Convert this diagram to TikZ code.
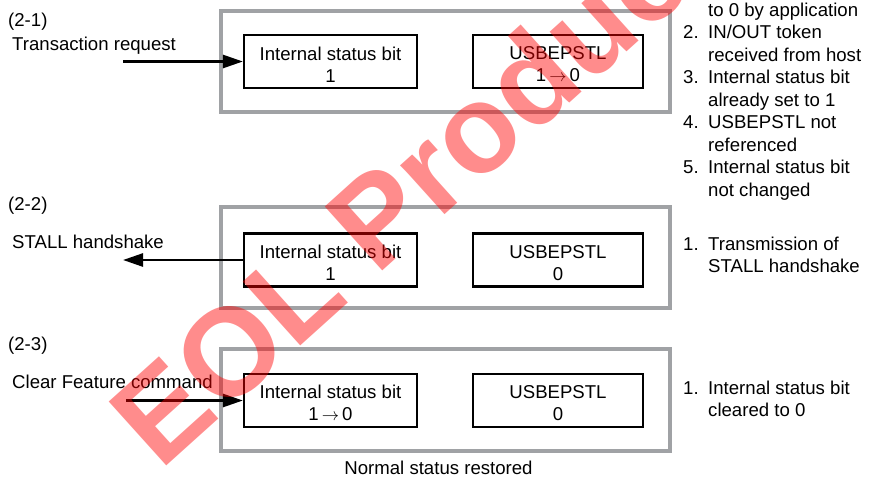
\documentclass[tikz,border=0pt]{standalone}
\usepackage{fontspec}
\setmainfont{Liberation Sans}
\usetikzlibrary{arrows.meta}
\definecolor{boxgray}{RGB}{160,162,165}
\newcommand{\tl}{\rule{0pt}{19pt}}
\begin{document}
\begin{tikzpicture}[x=1pt,y=-1pt,
  txt/.style={font=\fontsize{18.6}{22.5}\selectfont, inner sep=0pt},
  lbl/.style={txt, anchor=base west},
  outerbox/.style={draw=boxgray, line width=4.5pt, minimum width=449pt, minimum height=101pt, inner sep=0pt},
  innerbox/.style={draw=black, line width=2.2pt, minimum height=53pt, inner sep=0pt, align=center, font=\fontsize{18.6}{22}\selectfont},
  arr/.style={line width=2.6pt, -{Triangle[length=20pt,width=13pt]}},
  wm/.style={rotate=42, anchor=base west, inner sep=0pt, font=\fontsize{125}{125}\selectfont\bfseries, text=red, text opacity=0.45}
]
\useasboundingbox (0,0) rectangle (872,477);
\clip (0,0) rectangle (872,477);

% outer status frames
\node[outerbox] (o1) at (445.5,61.5) {};
\node[outerbox] (o2) at (445.5,257.5) {};
\node[outerbox, minimum height=102pt] (o3) at (445.5,400) {};

% inner boxes
\node[innerbox, minimum width=173pt] (s1) at (330.5,61.5) {\tl Internal status bit\\1};
\node[innerbox, minimum width=170pt] (u1) at (558,61.5) {\tl USBEPSTL\\1\,$\rightarrow$\,0};
\node[innerbox, minimum width=173pt] (s2) at (330.5,260) {\tl Internal status bit\\1};
\node[innerbox, minimum width=170pt] (u2) at (558,260) {\tl USBEPSTL\\0};
\node[innerbox, minimum width=173pt] (s3) at (330.5,400.5) {\tl Internal status bit\\1\,$\rightarrow$\,0};
\node[innerbox, minimum width=170pt] (u3) at (558,400.5) {\tl USBEPSTL\\0};

% arrows
\coordinate (a1) at (123,61.5);
\coordinate (a2) at (123,260);
\coordinate (a3) at (126,400.5);
\draw[arr] (a1) -- (s1.west);
\draw[arr] (s2.west) -- (a2);
\draw[arr] (a3) -- (s3.west);

% left labels
\node[lbl] (l21) at (8,26) {(2-1)};
\node[lbl] (ltr) at (12,50) {Transaction request};
\node[lbl] (l22) at (8,210) {(2-2)};
\node[lbl] (lst) at (12,248) {STALL handshake};
\node[lbl] (l23) at (8,350) {(2-3)};
\node[lbl] (lcf) at (12,388) {Clear Feature command};

% bottom caption
\node[txt, anchor=base] (cap) at (438.5,474) {Normal status restored};

% right list, frame 1
\node[lbl] (r10) at (708,16) {to 0 by application};
\node[lbl] (n2) at (683,38.5) {2.};
\node[lbl] (r11) at (708,38.5) {IN/OUT token};
\node[lbl] (r12) at (708,61) {received from host};
\node[lbl] (n3) at (683,83.5) {3.};
\node[lbl] (r13) at (708,83.5) {Internal status bit};
\node[lbl] (r14) at (708,106) {already set to 1};
\node[lbl] (n4) at (683,128.5) {4.};
\node[lbl] (r15) at (708,128.5) {USBEPSTL not};
\node[lbl] (r16) at (708,151) {referenced};
\node[lbl] (n5) at (683,173.5) {5.};
\node[lbl] (r17) at (708,173.5) {Internal status bit};
\node[lbl] (r18) at (708,196) {not changed};

% right list, frame 2
\node[lbl] (m1) at (683,250) {1.};
\node[lbl] (r21) at (708,250) {Transmission of};
\node[lbl] (r22) at (708,272.5) {STALL handshake};

% right list, frame 3
\node[lbl] (k1) at (683,394) {1.};
\node[lbl] (r31) at (708,394) {Internal status bit};
\node[lbl] (r32) at (708,416.5) {cleared to 0};

% watermark
\node[wm] (wmark) at (160,472) {EOL Products};
\end{tikzpicture}
\end{document}
